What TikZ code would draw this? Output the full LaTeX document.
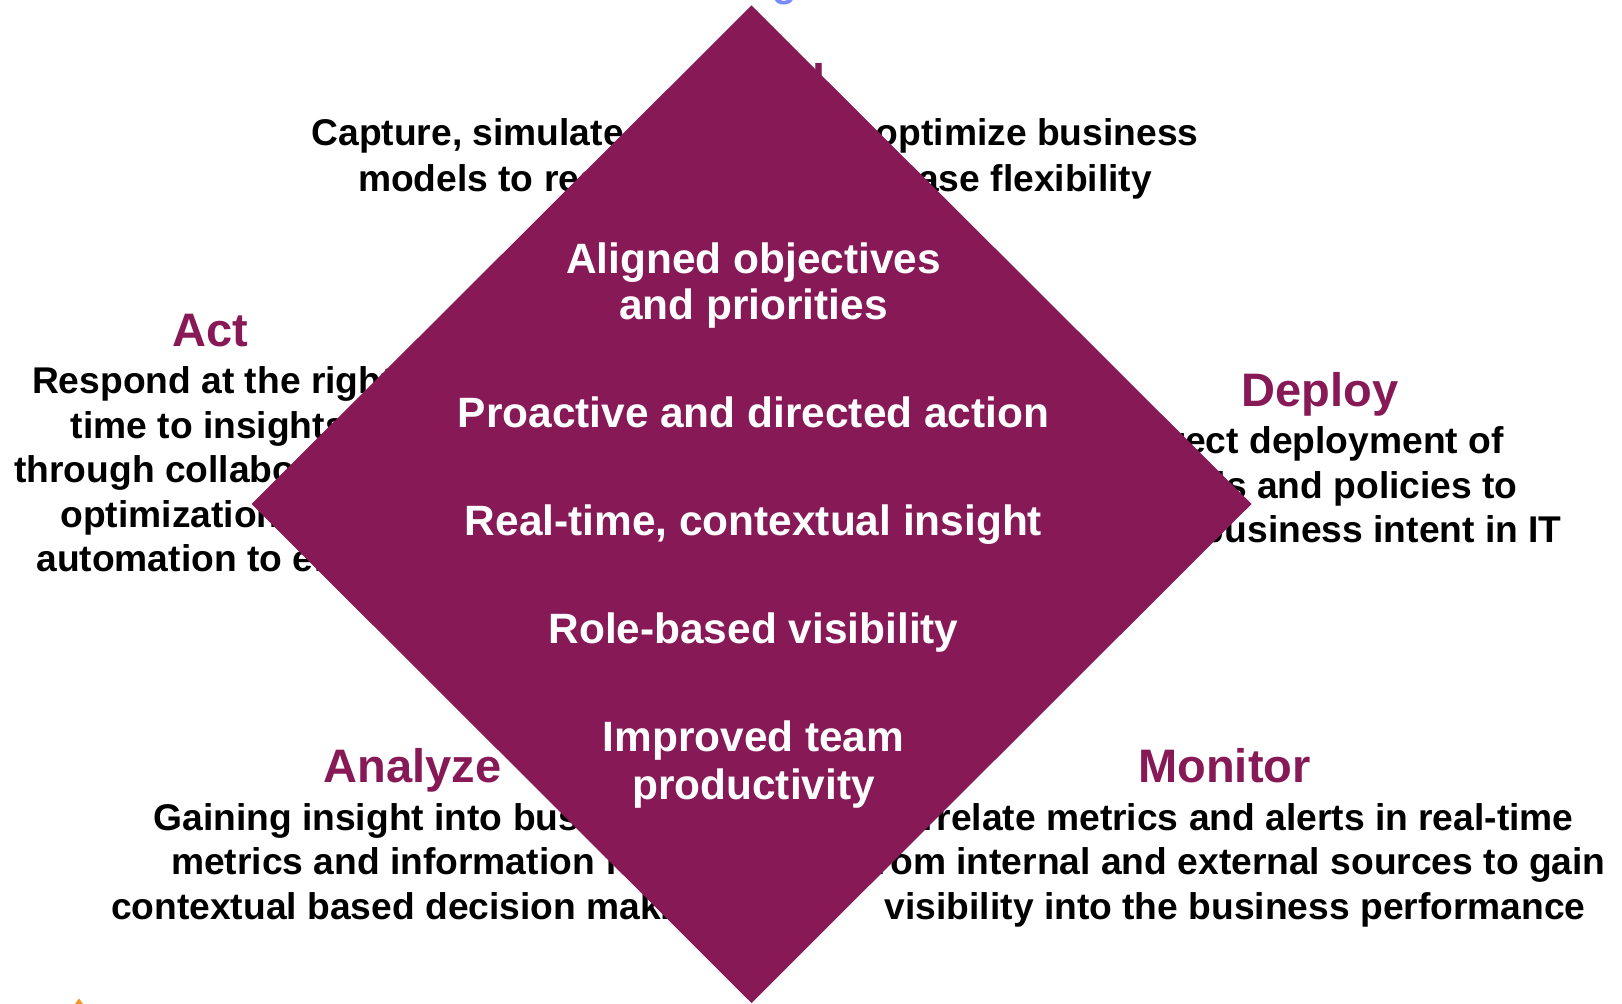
\documentclass[tikz,border=0pt]{standalone}
\usepackage{fontspec}
\setmainfont{Liberation Sans}
\definecolor{plum}{RGB}{136,25,87}
\definecolor{gblue}{RGB}{120,140,255}
\definecolor{dotorange}{RGB}{242,150,40}
\begin{document}
\begin{tikzpicture}[x=0.5pt,y=-0.5pt,
  body/.style={font=\fontsize{18.6}{22.4}\selectfont\bfseries, inner sep=0pt, text=black},
  ttl/.style={font=\fontsize{23.5}{28}\selectfont\bfseries, inner sep=0pt, text=plum, anchor=base},
  inr/.style={font=\fontsize{21.2}{23}\selectfont\bfseries, inner sep=0pt, text=white, anchor=base}]
\useasboundingbox (0,0) rectangle (1622,1004);
\fill[white] (0,0) rectangle (1622,1004);

% partly hidden title at the very top
\node[font=\fontsize{20}{24}\selectfont\bfseries, text=gblue, anchor=base west, inner sep=0pt] (gtop) at (772,-3.5) {g};
\fill[dotorange] (75,1004) -- (79,998.5) -- (83,1004) -- cycle;

% Model (top)
\node[ttl] (mt) at (758,98) {Model};
\node[body, anchor=base] (m1) at (755,146) {Capture, simulate, analyze, and optimize business};
\node[body, anchor=base] (m2) at (755,191.5) {models to reduce risk and increase flexibility};

% Act (left)
\node[ttl] (at) at (210,346.5) {Act};
\node[body, anchor=base west] (a1) at (31.7,394) {Respond at the right};
\node[body, anchor=base west] (a2) at (70.5,438.5) {time to insights};
\node[body, anchor=base west] (a3) at (14,483) {through collaboration,};
\node[body, anchor=base west] (a4) at (60,527.5) {optimization and};
\node[body, anchor=base west] (a5) at (36,572) {automation to effect};

% Deploy (right)
\node[ttl] (dt) at (1320,407) {Deploy};
\node[body, anchor=base east] (d1) at (1504,454) {Direct deployment of};
\node[body, anchor=base east] (d2) at (1518,498.5) {models and policies to};
\node[body, anchor=base east] (d3) at (1562,543) {realize business intent in IT};

% Analyze (bottom left)
\node[ttl] (ant) at (412.5,783) {Analyze};
\node[body, anchor=base west] (an1) at (153,830) {Gaining insight into business};
\node[body, anchor=base west] (an2) at (170.7,874.5) {metrics and information for};
\node[body, anchor=base west] (an3) at (110.7,919.5) {contextual based decision making};

% Monitor (bottom right)
\node[ttl] (mot) at (1224.5,783) {Monitor};
\node[body, anchor=base east] (mo1) at (1574,830) {Correlate metrics and alerts in real-time};
\node[body, anchor=base east] (mo2) at (1606,874.5) {from internal and external sources to gain};
\node[body, anchor=base east] (mo3) at (1586,919.5) {visibility into the business performance};

% central diamond
\coordinate (dT) at (751.5,5.5);
\coordinate (dR) at (1251.5,504);
\coordinate (dB) at (751.5,1003);
\coordinate (dL) at (251.5,504);
\fill[plum] (dT) -- (dR) -- (dB) -- (dL) -- cycle;

\node[inr] (i1) at (753.5,274) {Aligned objectives};
\node[inr] (i1b) at (753.5,320) {and priorities};
\node[inr] (i2) at (753.5,427.5) {Proactive and directed action};
\node[inr] (i3) at (753.5,535.5) {Real-time, contextual insight};
\node[inr] (i4) at (753.5,643.5) {Role-based visibility};
\node[inr] (i5) at (753.5,752) {Improved team};
\node[inr] (i5b) at (753.5,799.5) {productivity};
\end{tikzpicture}
\end{document}
